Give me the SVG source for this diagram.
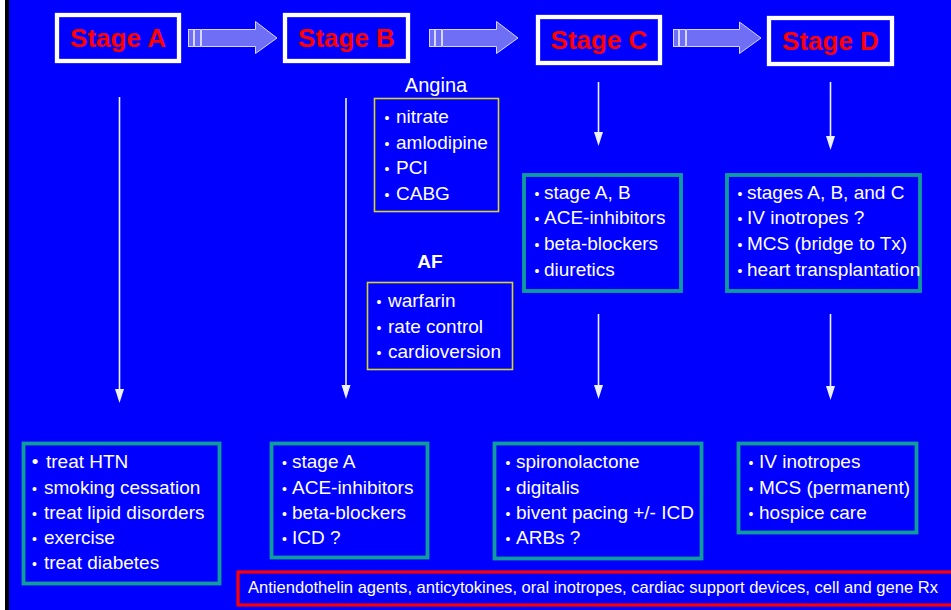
<svg xmlns="http://www.w3.org/2000/svg" width="951" height="610" viewBox="0 0 951 610">
<style>
.stage{fill:#0000ff;stroke:#ffffff;stroke-width:4.3}
.stt{font-family:"Liberation Sans",Arial,sans-serif;font-weight:bold;font-size:26px;fill:#ff0000;text-anchor:middle}
.tl{fill:#0000ff;stroke:#119c9c;stroke-width:3.8}
.yb{fill:#0000ff;stroke:#d4d42a;stroke-width:1.6}
.it{font-family:"Liberation Sans",Arial,sans-serif;font-size:19px;fill:#ffffff}
.bu{font-size:14px;text-anchor:middle}
.bbig{font-size:19px;text-anchor:middle}
.ba{fill:#6f6ff6;stroke:#d6d6ff;stroke-width:1}
.vl{stroke:#ecf0ff;stroke-width:1.6;fill:none}
.ah{fill:#ecf0ff}
</style>
<rect x="0" y="0" width="951" height="610" fill="#0000ff"/>
<rect x="0" y="0" width="5" height="610" fill="#ffffff"/>
<rect x="5" y="0" width="4" height="610" fill="#000000"/>

<g id="connectors">
  <g id="arrow-ab">
    <rect class="ba" x="188.5" y="29.5" width="5" height="17"/>
    <rect class="ba" x="194.5" y="29.5" width="6" height="17"/>
    <polygon class="ba" points="201.5,29.5 255.5,29.5 255.5,21.5 277,38 255.5,53.5 255.5,46.5 201.5,46.5"/>
  </g>
  <g id="arrow-bc">
    <rect class="ba" x="429.5" y="29.5" width="5" height="17"/>
    <rect class="ba" x="435.5" y="29.5" width="6" height="17"/>
    <polygon class="ba" points="442.5,29.5 496.5,29.5 496.5,21.5 518,38 496.5,53.5 496.5,46.5 442.5,46.5"/>
  </g>
  <g id="arrow-cd">
    <rect class="ba" x="673.5" y="29.5" width="5" height="17"/>
    <rect class="ba" x="679.5" y="29.5" width="6" height="17"/>
    <polygon class="ba" points="686.5,29.5 739.5,29.5 739.5,22 761,38 739.5,53.5 739.5,46.5 686.5,46.5"/>
  </g>
  <g id="v-a"><line class="vl" x1="119.5" y1="97" x2="119.5" y2="392"/><polygon class="ah" points="115,389 124,389 119.5,403"/></g>
  <g id="v-b"><line class="vl" x1="346" y1="98" x2="346" y2="388"/><polygon class="ah" points="341.5,385 350.5,385 346,399"/></g>
  <g id="v-c1"><line class="vl" x1="598.5" y1="82" x2="598.5" y2="135"/><polygon class="ah" points="594,132 603,132 598.5,146"/></g>
  <g id="v-c2"><line class="vl" x1="598.5" y1="314" x2="598.5" y2="388"/><polygon class="ah" points="594,385 603,385 598.5,399"/></g>
  <g id="v-d1"><line class="vl" x1="830.5" y1="82" x2="830.5" y2="139"/><polygon class="ah" points="826,136 835,136 830.5,150"/></g>
  <g id="v-d2"><line class="vl" x1="830.5" y1="314" x2="830.5" y2="389"/><polygon class="ah" points="826,386 835,386 830.5,400"/></g>
</g>

<g id="stage-a"><rect class="stage" x="57" y="15" width="122" height="46"/><text class="stt" x="118" y="47">Stage A</text></g>
<g id="stage-b"><rect class="stage" x="285" y="15" width="123" height="46"/><text class="stt" x="346.5" y="47">Stage B</text></g>
<g id="stage-c"><rect class="stage" x="538" y="17" width="122" height="46"/><text class="stt" x="599" y="49">Stage C</text></g>
<g id="stage-d"><rect class="stage" x="769" y="18" width="123" height="46"/><text class="stt" x="830.5" y="50">Stage D</text></g>

<g id="angina">
  <text class="it" x="436" y="92" font-size="20" text-anchor="middle" style="font-size:20px">Angina</text>
  <rect class="yb" x="374.5" y="98.5" width="124" height="113"/>
  <text class="it"><tspan class="bu" x="387" y="123">•</tspan><tspan x="396" y="123">nitrate</tspan><tspan class="bu" x="387" y="149">•</tspan><tspan x="396" y="149">amlodipine</tspan><tspan class="bu" x="387" y="174">•</tspan><tspan x="396" y="174">PCI</tspan><tspan class="bu" x="387" y="200">•</tspan><tspan x="396" y="200">CABG</tspan></text>
</g>

<g id="af">
  <text class="it" x="430" y="268" text-anchor="middle" style="font-weight:bold">AF</text>
  <rect class="yb" x="367.5" y="282.5" width="145" height="87"/>
  <text class="it"><tspan class="bu" x="379" y="307">•</tspan><tspan x="388" y="307">warfarin</tspan><tspan class="bu" x="379" y="333">•</tspan><tspan x="388" y="333">rate control</tspan><tspan class="bu" x="379" y="358">•</tspan><tspan x="388" y="358">cardioversion</tspan></text>
</g>

<g id="c-top">
  <rect class="tl" x="524" y="175" width="157" height="116"/>
  <text class="it"><tspan class="bu" x="537" y="199">•</tspan><tspan x="544" y="199">stage A, B</tspan><tspan class="bu" x="537" y="224">•</tspan><tspan x="544" y="224">ACE-inhibitors</tspan><tspan class="bu" x="537" y="250">•</tspan><tspan x="544" y="250">beta-blockers</tspan><tspan class="bu" x="537" y="276">•</tspan><tspan x="544" y="276">diuretics</tspan></text>
</g>

<g id="d-top">
  <rect class="tl" x="727" y="175" width="193" height="116"/>
  <text class="it"><tspan class="bu" x="740" y="199">•</tspan><tspan x="747" y="199">stages A, B, and C</tspan><tspan class="bu" x="740" y="224">•</tspan><tspan x="747" y="224">IV inotropes ?</tspan><tspan class="bu" x="740" y="250">•</tspan><tspan x="747" y="250">MCS (bridge to Tx)</tspan><tspan class="bu" x="740" y="276">•</tspan><tspan x="747" y="276">heart transplantation</tspan></text>
</g>

<g id="a-bottom">
  <rect class="tl" x="23.5" y="443.5" width="196" height="140"/>
  <text class="it"><tspan class="bbig" x="35" y="468">•</tspan><tspan x="46" y="468">treat HTN</tspan><tspan class="bu" x="34.5" y="494">•</tspan><tspan x="44" y="494">smoking cessation</tspan><tspan class="bu" x="34.5" y="519">•</tspan><tspan x="44" y="519">treat lipid disorders</tspan><tspan class="bu" x="34.5" y="544">•</tspan><tspan x="44" y="544">exercise</tspan><tspan class="bu" x="34.5" y="569">•</tspan><tspan x="44" y="569">treat diabetes</tspan></text>
</g>

<g id="b-bottom">
  <rect class="tl" x="271.5" y="443.5" width="156" height="114"/>
  <text class="it"><tspan class="bu" x="284.5" y="468">•</tspan><tspan x="292" y="468">stage A</tspan><tspan class="bu" x="284.5" y="494">•</tspan><tspan x="292" y="494">ACE-inhibitors</tspan><tspan class="bu" x="284.5" y="519">•</tspan><tspan x="292" y="519">beta-blockers</tspan><tspan class="bu" x="284.5" y="544">•</tspan><tspan x="292" y="544">ICD ?</tspan></text>
</g>

<g id="c-bottom">
  <rect class="tl" x="494.5" y="443.5" width="207" height="115"/>
  <text class="it"><tspan class="bu" x="508" y="468">•</tspan><tspan x="516" y="468">spironolactone</tspan><tspan class="bu" x="508" y="494">•</tspan><tspan x="516" y="494">digitalis</tspan><tspan class="bu" x="508" y="519">•</tspan><tspan x="516" y="519">bivent pacing +/- ICD</tspan><tspan class="bu" x="508" y="544">•</tspan><tspan x="516" y="544">ARBs ?</tspan></text>
</g>

<g id="d-bottom">
  <rect class="tl" x="738.5" y="443.5" width="178" height="89"/>
  <text class="it"><tspan class="bu" x="751" y="468">•</tspan><tspan x="759" y="468">IV inotropes</tspan><tspan class="bu" x="751" y="494">•</tspan><tspan x="759" y="494">MCS (permanent)</tspan><tspan class="bu" x="751" y="519">•</tspan><tspan x="759" y="519">hospice care</tspan></text>
</g>

<g id="future">
  <rect x="238" y="572" width="720" height="33" fill="#0000ff" stroke="#ff0000" stroke-width="3.2"/>
  <text class="it" x="248" y="593" style="font-size:16.5px" textLength="690" lengthAdjust="spacingAndGlyphs">Antiendothelin agents, anticytokines, oral inotropes, cardiac support devices, cell and gene Rx</text>
</g>
</svg>
